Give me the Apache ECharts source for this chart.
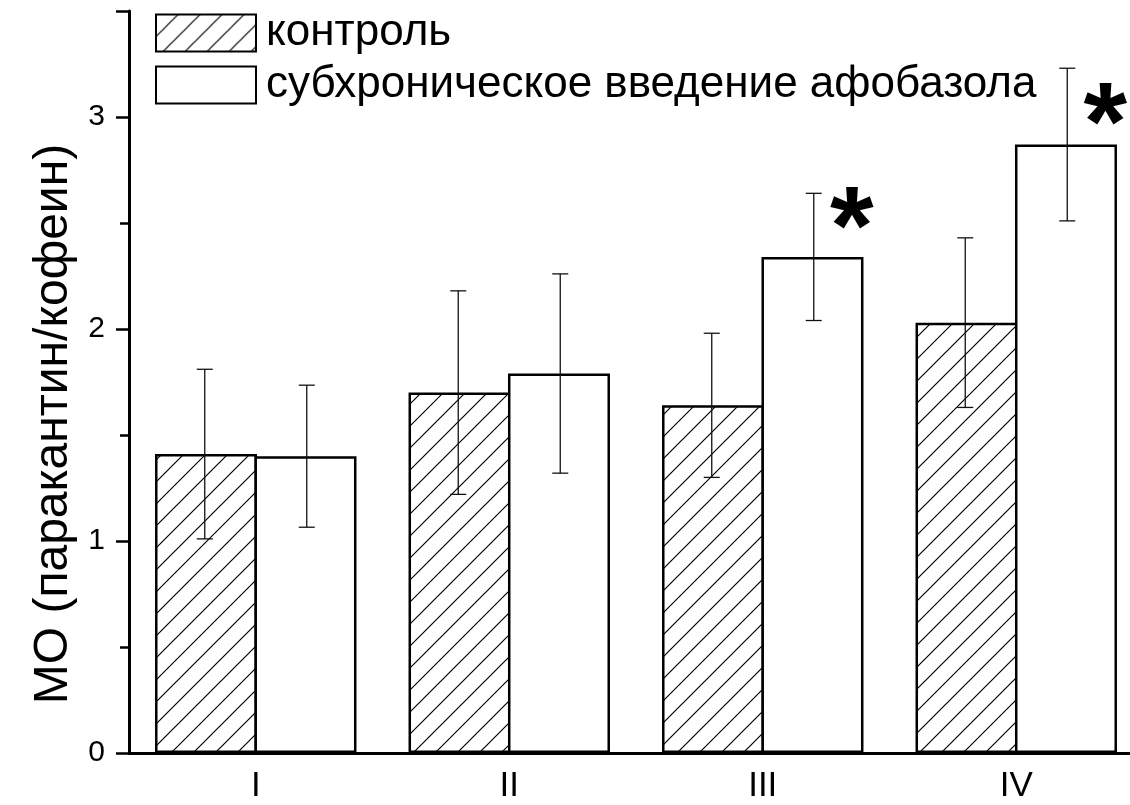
<!DOCTYPE html>
<html>
<head>
<meta charset="utf-8">
<script src="https://cdn.jsdelivr.net/npm/echarts@6/dist/echarts.min.js"></script>
<style>
  html, body { margin: 0; padding: 0; background: #fff; overflow: hidden; }
  /* plot runs off the right edge in the original, so the canvas is a bit wider than the window */
  #main { width: 1143px; height: 805px; }
</style>
</head>
<body>
<div id="main"></div>
<script>
// data
const groups = ['I', 'II', 'III', 'IV'];
const controlMean = [1.41, 1.70, 1.64, 2.03];
const controlErr = [0.40, 0.48, 0.34, 0.40];
const afobMean = [1.40, 1.79, 2.34, 2.87];
const afobErr = [0.335, 0.47, 0.30, 0.36];
const starGroup = [2, 3];
const starLevel = [2.56, 3.05];
const seriesNames = ['контроль', 'субхроническое введение афобазола'];
const yName = 'МО (паракантин/кофеин)';

const FONT = '"Liberation Sans", Arial, sans-serif';
const BAR_W = 102;

// diagonal hatch tile for the control bars
function hatchPattern() {
  const c = document.createElement('canvas');
  c.width = c.height = 22;
  const g = c.getContext('2d');
  g.strokeStyle = '#000';
  g.lineWidth = 1.2;
  g.beginPath();
  g.moveTo(0, 22); g.lineTo(22, 0);
  g.moveTo(-11, 11); g.lineTo(11, -11);
  g.moveTo(11, 33); g.lineTo(33, 11);
  g.stroke();
  return { image: c, repeat: 'repeat' };
}
const hatch = hatchPattern();

function errorBars(offset) {
  return function (params, api) {
    const x = api.value(0), m = api.value(1), e = api.value(2);
    const top = api.coord([x, m + e]);
    const bot = api.coord([x, m - e]);
    const cx = top[0] + offset;
    const style = { stroke: '#111', lineWidth: 1.3 };
    return {
      type: 'group',
      children: [
        { type: 'line', shape: { x1: cx, y1: top[1], x2: cx, y2: bot[1] }, style: style },
        { type: 'line', shape: { x1: cx - 8, y1: top[1], x2: cx + 8, y2: top[1] }, style: style },
        { type: 'line', shape: { x1: cx - 8, y1: bot[1], x2: cx + 8, y2: bot[1] }, style: style }
      ]
    };
  };
}

function stars(params, api) {
  const p = api.coord([api.value(0), api.value(1)]);
  return {
    type: 'text',
    x: p[0] + 89,
    y: p[1] + 23,
    style: {
      text: '*', fill: '#000', fontSize: 112, fontWeight: 'bold',
      fontFamily: FONT, align: 'center', verticalAlign: 'middle'
    }
  };
}

const chart = echarts.init(document.getElementById('main'));
chart.setOption({
  animation: false,
  backgroundColor: '#fff',
  grid: { left: 129, top: 11, right: 0, height: 742, containLabel: false },
  legend: {
    orient: 'vertical', left: 155, top: 7, padding: 0,
    itemWidth: 100, itemHeight: 37, itemGap: 0, icon: 'rect',
    data: seriesNames,
    itemStyle: { borderColor: '#000', borderWidth: 2 },
    textStyle: { fontSize: 44, lineHeight: 52, fontFamily: FONT, color: '#000', padding: [0, 0, 0, 5] }
  },
  xAxis: {
    type: 'category',
    data: groups,
    axisLine: { lineStyle: { color: '#000', width: 3 } },
    axisTick: { alignWithLabel: true, length: 15, lineStyle: { color: '#000', width: 2.5 } },
    axisLabel: { fontSize: 35, fontFamily: FONT, color: '#000', margin: 16 },
    splitLine: { show: false }
  },
  yAxis: {
    type: 'value',
    min: 0, max: 3.5, interval: 1,
    name: yName,
    nameLocation: 'middle',
    nameGap: 30,
    nameTextStyle: { fontSize: 48, fontFamily: FONT, color: '#000', padding: [0, 84, 0, 0] },
    axisLine: { show: true, lineStyle: { color: '#000', width: 3 } },
    axisTick: { show: true, length: 13, lineStyle: { color: '#000', width: 2.5 } },
    minorTick: { show: true, splitNumber: 2, length: 9, lineStyle: { color: '#000', width: 2.5 } },
    axisLabel: { fontSize: 30, fontFamily: FONT, color: '#000', margin: 24, showMaxLabel: false },
    splitLine: { show: false }
  },
  series: [
    {
      name: seriesNames[0], type: 'bar', data: controlMean,
      barWidth: BAR_W, barGap: '-2.5%',
      itemStyle: { color: hatch, borderColor: '#000', borderWidth: 2.5 }
    },
    {
      name: seriesNames[1], type: 'bar', data: afobMean,
      barWidth: BAR_W, barGap: '-2.5%',
      itemStyle: { color: '#fff', borderColor: '#000', borderWidth: 2.5 }
    },
    {
      type: 'custom', z: 5, silent: true,
      renderItem: errorBars(-BAR_W / 2),
      encode: { x: 0, y: 1 },
      data: groups.map((g, i) => [i, controlMean[i], controlErr[i]])
    },
    {
      type: 'custom', z: 5, silent: true,
      renderItem: errorBars(BAR_W / 2),
      encode: { x: 0, y: 1 },
      data: groups.map((g, i) => [i, afobMean[i], afobErr[i]])
    },
    {
      type: 'custom', z: 6, silent: true,
      renderItem: stars,
      encode: { x: 0, y: 1 },
      data: starGroup.map((g, i) => [g, starLevel[i]])
    }
  ]
});
</script>
</body>
</html>
